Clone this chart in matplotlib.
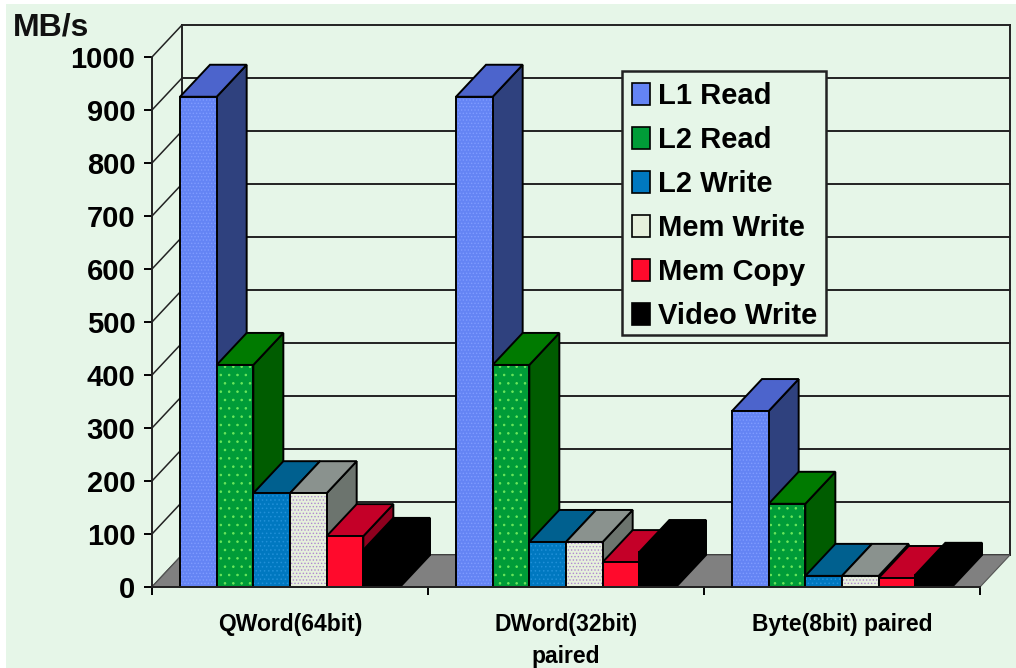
import matplotlib
matplotlib.use('Agg')
import matplotlib.pyplot as plt
from matplotlib.patches import Polygon, Patch, Rectangle

plt.rcParams['font.family'] = ['Liberation Sans', 'DejaVu Sans']
plt.rcParams['hatch.linewidth'] = 0.6

# values, MB/s
categories = ['QWord(64bit)', 'DWord(32bit)\npaired', 'Byte(8bit) paired']
series_names = ['L1 Read', 'L2 Read', 'L2 Write', 'Mem Write', 'Mem Copy', 'Video Write']
l1_read = [925, 925, 332]
l2_read = [419, 419, 157]
l2_write = [177, 85, 21]
mem_write = [177, 85, 21]
mem_copy = [96, 47, 17]
video_write = [70, 66, 23]
y_ticks = [0, 100, 200, 300, 400, 500, 600, 700, 800, 900, 1000]

all_series = [l1_read, l2_read, l2_write, mem_write, mem_copy, video_write]

# front, top, side, hatch colour, hatch pattern
styles = [
    ('#6484F4', '#4C64CC', '#2F417E', '#7F9CFF', '.....'),
    ('#009C38', '#007A00', '#005C00', '#6CE85C', '..'),
    ('#0078C0', '#00608F', '#004F78', '#2090D8', '....'),
    ('#E6F0DC', '#8A928E', '#6C746E', '#B088D0', '.....'),
    ('#FF0A2C', '#C40028', '#8E001E', '#FF3050', ''),
    ('#000000', '#000000', '#000000', '#000000', ''),
]

BG = '#E6F6E8'
W, H = 1016, 668
X0, X1, Y0, Y1 = 152, 980, 587, 57  # axes box in pixels

fig = plt.figure(figsize=(W / 100, H / 100), dpi=100, facecolor='white')
fig.add_artist(Rectangle((6 / W, 0), 1 - 6 / W, 1 - 4 / H, transform=fig.transFigure,
                         facecolor=BG, edgecolor='none', zorder=-10))
ax = fig.add_axes([X0 / W, 1 - Y0 / H, (X1 - X0) / W, (Y0 - Y1) / H])
ax.patch.set_alpha(0)
ax.set_xlim(0, 3)
ax.set_ylim(0, 1000)

# depth of the fake 3d box, in data units
dx = 30 / ((X1 - X0) / 3)
dy = 32 / ((Y0 - Y1) / 1000)
lw = 1.4


def poly(pts, fc, hatch=None, hc=None, z=3):
    if hatch:
        ax.add_patch(Polygon(pts, facecolor=fc, edgecolor=hc, hatch=hatch, lw=0, zorder=z, clip_on=False))
        ax.add_patch(Polygon(pts, fill=False, edgecolor='black', lw=lw, zorder=z, clip_on=False, joinstyle='miter'))
    else:
        ax.add_patch(Polygon(pts, facecolor=fc, edgecolor='black', lw=lw, zorder=z, clip_on=False, joinstyle='miter'))


# walls and grid
for v in y_ticks:
    ax.plot([0, dx], [v, v + dy], color='#222222', lw=1.1, zorder=1, clip_on=False)
    ax.plot([dx, 3 + dx], [v + dy, v + dy], color='#222222', lw=1.4, zorder=1, clip_on=False)
ax.plot([dx, dx], [dy, 1000 + dy], color='#222222', lw=lw, zorder=1, clip_on=False)
ax.plot([3 + dx, 3 + dx], [dy, 1000 + dy], color='#222222', lw=lw, zorder=1, clip_on=False)

# floor
ax.add_patch(Polygon([(0, 0), (dx, dy), (3 + dx, dy), (3, 0)], facecolor='#808080',
                     edgecolor='#555555', lw=0.8, zorder=2, clip_on=False))

bar_w = 36.67 / 276
offset = 28 / 276
z = 3
for g in range(len(categories)):
    for s, vals in enumerate(all_series):
        front, top, side, hc, hatch = styles[s]
        x = g + offset + s * bar_w
        v = vals[g]
        poly([(x + bar_w, 0), (x + bar_w + dx, dy), (x + bar_w + dx, v + dy), (x + bar_w, v)], side, z=z)
        poly([(x, v), (x + dx, v + dy), (x + bar_w + dx, v + dy), (x + bar_w, v)], top, z=z)
        poly([(x, 0), (x, v), (x + bar_w, v), (x + bar_w, 0)], front, hatch, hc, z=z)
        z += 1

# axes
for name in ['top', 'right']:
    ax.spines[name].set_visible(False)
for name in ['left', 'bottom']:
    ax.spines[name].set_linewidth(lw)
    ax.spines[name].set_color('#222222')
    ax.spines[name].set_zorder(100)

ax.set_yticks(y_ticks)
ax.set_yticklabels([str(v) for v in y_ticks], fontsize=21, fontweight='bold')
ax.tick_params(axis='y', length=6, width=lw, pad=6)

ax.set_xticks([0, 1, 2, 3])
ax.set_xticklabels([])
ax.set_xticks([0.5, 1.5, 2.5], minor=True)
ax.set_xticklabels(categories, minor=True, fontsize=16.5, fontweight='bold', linespacing=1.5)
ax.tick_params(axis='x', which='major', length=6, width=lw)
ax.tick_params(axis='x', which='minor', length=0, pad=19)

fig.text(13 / W, 1 - 27 / H, 'MB/s', fontsize=23, fontweight='bold', color='#111111', va='center')

# legend box drawn separately, the legend's own frame comes out too tall
fig.add_artist(Rectangle((622 / W, 1 - 335 / H), 204 / W, 264 / H, transform=fig.transFigure,
                         facecolor=BG, edgecolor='#222222', lw=1.8, zorder=150))
handles = [Patch(facecolor=st[0], edgecolor='black', lw=1.2) for st in styles]
leg = ax.legend(handles, series_names, loc='upper left', frameon=False,
                bbox_to_anchor=((632 - X0) / (X1 - X0), (Y0 - 82) / (Y0 - Y1)),
                borderaxespad=0, borderpad=0,
                prop={'size': 21, 'weight': 'bold'}, handlelength=0.62, handleheight=0.8,
                handletextpad=0.27, labelspacing=0.55)
leg.remove()
fig.add_artist(leg)
leg.set_zorder(200)

fig.savefig('out.png', dpi=100, facecolor=fig.get_facecolor())
